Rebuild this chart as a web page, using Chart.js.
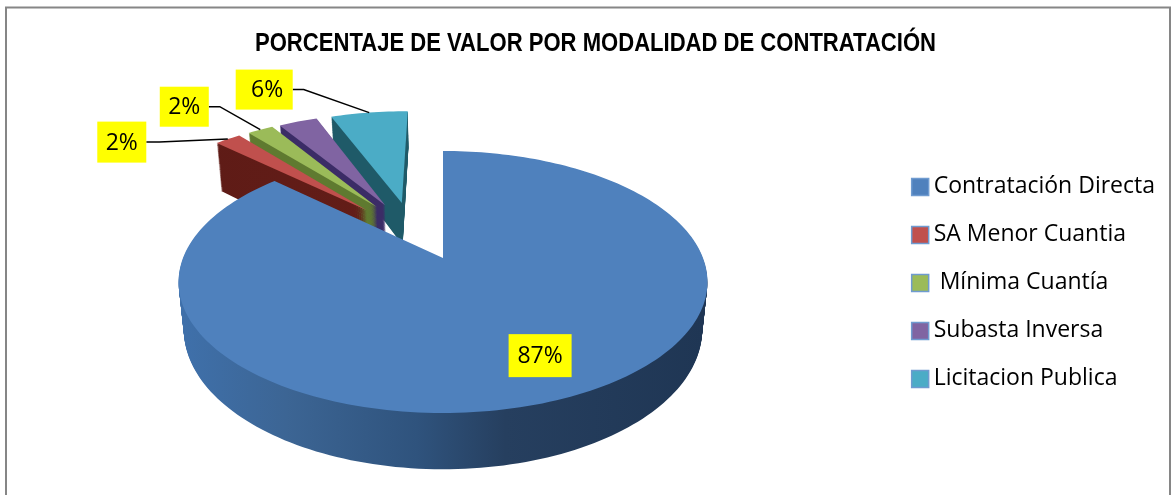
<!DOCTYPE html>
<html><head><meta charset="utf-8">
<style>html,body{margin:0;padding:0;background:#fff;overflow:hidden}canvas{display:block}</style>
<script src="https://cdn.jsdelivr.net/npm/chart.js@4"></script>
</head><body>
<canvas id="c" width="1175" height="495"></canvas>
<script>
const titleText = 'PORCENTAJE DE VALOR POR MODALIDAD DE CONTRATACIÓN';
const categories = ['Contratación Directa', 'SA Menor Cuantia', ' Mínima Cuantía', 'Subasta Inversa', 'Licitacion Publica'];
const values = [87, 2, 2, 3, 6];
const showLabel = [true, true, true, false, true];
const topColors = ['#4f81bd', '#c0504d', '#9bbb59', '#8064a2', '#4bacc6'];

// View settings for the tilted, extruded pie
const view = {x0: 443, y0: 258, a: 260, b: 126.6, p: 0.183, depth: 46, inset: 0.02};
const explodeU = [0, -0.315, -0.275, -0.241, -0.172];
const explodeV = [0, -0.405, -0.435, -0.451, -0.472];
const depthScale = [1, 1.25, 1, 1, 1];
const drawOrder = [4, 3, 2, 1, 0];
const sideStops = [
  [[0, '#3f70aa'], [0.2, '#3c6594'], [0.45, '#2f537d'], [0.62, '#263f5f'], [1, '#1f3654']],
  [[0, '#5e1b16'], [1, '#6b201b']],
  [[0, '#5f7a30'], [1, '#5f7a30']],
  [[0, '#3b2c66'], [1, '#3b2c66']],
  [[0, '#1f5a68'], [1, '#1f5a68']]
];
// Label placement relative to each slice's outer midpoint
const labelStyle = [
  {dx: -27, dy: -42, w: 63, h: 43, tx: 0, line: false},
  {dx: -106, dy: 3, w: 49, h: 41, tx: 0, line: true, bx: 13},
  {dx: -76, dy: -23, w: 49, h: 40, tx: 0, line: true, bx: 11},
  null,
  {dx: -105, dy: -23, w: 57, h: 40, tx: 3, line: true, bx: 11}
];
// Legend swatch geometry relative to the legend's own hit boxes
const swatch = {size: 17, gap: 5, textOffset: 17.5};

function project(u, v, du, dv, t, i) {
  const U = u + du, V = v + dv, w = 1 - view.p * V;
  const s = 1 - view.inset * t;
  return [
    view.x0 + view.a * s * U / w,
    view.y0 + view.b * V / w + t * view.depth * depthScale[i] / w
  ];
}
function slicePath(ctx, arc, i, t) {
  const du = explodeU[i], dv = explodeV[i];
  const n = Math.max(6, Math.ceil((arc.endAngle - arc.startAngle) * 40));
  ctx.beginPath();
  let pt = project(0, 0, du, dv, t, i);
  ctx.moveTo(pt[0], pt[1]);
  for (let k = 0; k <= n; k++) {
    const ang = arc.startAngle + (arc.endAngle - arc.startAngle) * k / n;
    pt = project(Math.cos(ang), Math.sin(ang), du, dv, t, i);
    ctx.lineTo(pt[0], pt[1]);
  }
  ctx.closePath();
}
const frame = {
  id: 'frame',
  afterLayout(chart) {
    // condensed title: the title block's width limits the drawn text width
    chart.titleBlock.left = 255;
    chart.titleBlock.right = 936;
  },
  beforeDraw(chart) {
    const c = chart.ctx;
    c.save();
    c.fillStyle = '#fff'; c.fillRect(0, 0, chart.width, chart.height);
    c.strokeStyle = '#868686'; c.lineWidth = 2;
    c.beginPath(); c.moveTo(6, 495); c.lineTo(6, 7.5); c.lineTo(1170, 7.5); c.lineTo(1170, 495); c.stroke();
    c.restore();
  },
  afterDraw(chart) {
    const c = chart.ctx;
    c.save();
    chart.legend.legendHitBoxes.forEach((h, i) => {
      const x = h.left + swatch.textOffset - swatch.gap - swatch.size;
      const y = h.top + h.height / 2 - swatch.size / 2 + 1;
      c.fillStyle = topColors[i];
      c.fillRect(x, y, swatch.size, swatch.size);
      c.strokeStyle = '#6f9bd0'; c.lineWidth = 1.5;
      c.strokeRect(x, y, swatch.size, swatch.size);
    });
    c.restore();
  }
};
const pie3d = {
  id: 'pie3d',
  beforeDatasetDraw(chart) {
    const c = chart.ctx, arcs = chart.getDatasetMeta(0).data;
    c.save();
    drawOrder.forEach(i => {
      const g = c.createLinearGradient(view.x0 - view.a, 0, view.x0 + view.a, 0);
      sideStops[i].forEach(s => g.addColorStop(s[0], s[1]));
      c.fillStyle = g;
      const layers = 50;
      for (let k = layers; k > 0; k--) { slicePath(c, arcs[i], i, k / layers); c.fill(); }
      slicePath(c, arcs[i], i, 0);
      c.fillStyle = topColors[i];
      c.fill();
    });
    c.restore();
    return false;
  },
  afterDatasetsDraw(chart) {
    const c = chart.ctx, arcs = chart.getDatasetMeta(0).data;
    c.save();
    c.font = '23px "Open Sans"';
    c.textAlign = 'center'; c.textBaseline = 'middle';
    values.forEach((val, i) => {
      if (!showLabel[i]) return;
      const st = labelStyle[i], arc = arcs[i];
      const mid = (arc.startAngle + arc.endAngle) / 2;
      const p = project(Math.cos(mid), Math.sin(mid), explodeU[i], explodeV[i], 0, i);
      const bx = p[0] + st.dx, by = p[1] + st.dy;
      const left = bx - st.w / 2, top = by - st.h / 2;
      if (st.line) {
        c.strokeStyle = '#000'; c.lineWidth = 1.5;
        c.beginPath();
        c.moveTo(left + st.w, by); c.lineTo(left + st.w + st.bx, by); c.lineTo(p[0], p[1]); c.stroke();
      }
      c.fillStyle = '#ffff00'; c.fillRect(left, top, st.w, st.h);
      c.fillStyle = '#000'; c.fillText(val + '%', bx + st.tx, by + 1);
    });
    c.restore();
  }
};
new Chart(document.getElementById('c'), {
  type: 'pie',
  data: {labels: categories, datasets: [{data: values, backgroundColor: topColors, borderWidth: 0}]},
  plugins: [frame, pie3d],
  options: {
    responsive: false, animation: false,
    layout: {padding: {left: 16, top: 29, right: 10, bottom: 0}},
    plugins: {
      tooltip: {enabled: false},
      title: {display: true, text: titleText, color: '#000',
        font: {family: '"Liberation Sans"', size: 25, weight: 'bold'}, padding: {top: 0, bottom: 10}},
      legend: {
        position: 'right',
        fullSize: false,
        labels: {
          boxWidth: 6, boxHeight: 6, padding: 25, color: '#000',
          font: {family: '"Open Sans"', size: 23},
          generateLabels: chart => chart.data.labels.map((t, i) => ({
            text: t, fillStyle: topColors[i], strokeStyle: topColors[i], lineWidth: 0, index: i, hidden: false
          }))
        }
      }
    }
  }
});
</script>
</body></html>
